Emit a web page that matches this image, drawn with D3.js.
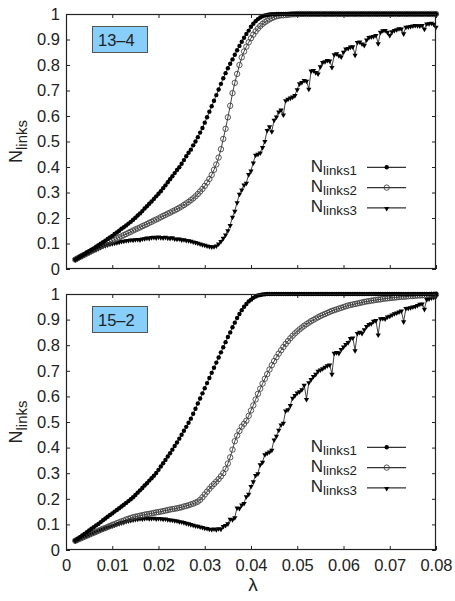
<!DOCTYPE html>
<html>
<head>
<meta charset="utf-8">
<script src="https://cdn.jsdelivr.net/npm/d3@7"></script>
<style>
  html, body { margin: 0; padding: 0; background: #fff; }
  svg { display: block; font-family: "Liberation Sans", Arial, Helvetica, sans-serif; }
</style>
</head>
<body>
<svg id="chart" width="455" height="601"></svg>
<script>
// λ sampling points shared by every series
const lambda = [
  0.0020, 0.0025, 0.0030, 0.0035, 0.0040, 0.0045, 0.0050, 0.0055, 0.0060, 0.0065,
  0.0070, 0.0075, 0.0080, 0.0085, 0.0090, 0.0095, 0.0100, 0.0105, 0.0110, 0.0115,
  0.0120, 0.0125, 0.0130, 0.0135, 0.0140, 0.0145, 0.0150, 0.0155, 0.0160, 0.0165,
  0.0170, 0.0175, 0.0180, 0.0185, 0.0190, 0.0195, 0.0200, 0.0205, 0.0210, 0.0215,
  0.0220, 0.0225, 0.0230, 0.0235, 0.0240, 0.0245, 0.0250, 0.0255, 0.0260, 0.0265,
  0.0270, 0.0275, 0.0280, 0.0285, 0.0290, 0.0295, 0.0300, 0.0305, 0.0310, 0.0315,
  0.0320, 0.0325, 0.0330, 0.0335, 0.0340, 0.0345, 0.0350, 0.0355, 0.0360, 0.0365,
  0.0370, 0.0375, 0.0380, 0.0385, 0.0390, 0.0395, 0.0400, 0.0405, 0.0410, 0.0415,
  0.0420, 0.0425, 0.0430, 0.0435, 0.0440, 0.0445, 0.0450, 0.0455, 0.0460, 0.0465,
  0.0470, 0.0475, 0.0480, 0.0485, 0.0490, 0.0495, 0.0500, 0.0505, 0.0510, 0.0515,
  0.0520, 0.0525, 0.0530, 0.0535, 0.0540, 0.0545, 0.0550, 0.0555, 0.0560, 0.0565,
  0.0570, 0.0575, 0.0580, 0.0585, 0.0590, 0.0595, 0.0600, 0.0605, 0.0610, 0.0615,
  0.0620, 0.0625, 0.0630, 0.0635, 0.0640, 0.0645, 0.0650, 0.0655, 0.0660, 0.0665,
  0.0670, 0.0675, 0.0680, 0.0685, 0.0690, 0.0695, 0.0700, 0.0705, 0.0710, 0.0715,
  0.0720, 0.0725, 0.0730, 0.0735, 0.0740, 0.0745, 0.0750, 0.0755, 0.0760, 0.0765,
  0.0770, 0.0775, 0.0780, 0.0785, 0.0790, 0.0795, 0.0800
];

// Case 13–4
const links1_13_4 = [
  0.037, 0.042, 0.048, 0.053, 0.059, 0.065, 0.070, 0.076, 0.081, 0.087,
  0.093, 0.099, 0.105, 0.111, 0.118, 0.124, 0.130, 0.137, 0.143, 0.150,
  0.158, 0.164, 0.171, 0.178, 0.185, 0.193, 0.201, 0.210, 0.218, 0.227,
  0.237, 0.246, 0.256, 0.265, 0.275, 0.285, 0.295, 0.305, 0.317, 0.328,
  0.340, 0.352, 0.364, 0.376, 0.388, 0.399, 0.413, 0.427, 0.442, 0.456,
  0.468, 0.485, 0.500, 0.517, 0.535, 0.553, 0.574, 0.595, 0.617, 0.638,
  0.660, 0.682, 0.704, 0.726, 0.748, 0.768, 0.787, 0.805, 0.822, 0.840,
  0.858, 0.875, 0.891, 0.907, 0.922, 0.935, 0.950, 0.962, 0.972, 0.980,
  0.986, 0.991, 0.994, 0.996, 0.998, 0.999, 0.999, 1.000, 1.000, 1.000,
  1.000, 1.000, 1.000, 1.000, 1.000, 1.000, 1.000, 1.000, 1.000, 1.000,
  1.000, 1.000, 1.000, 1.000, 1.000, 1.000, 1.000, 1.000, 1.000, 1.000,
  1.000, 1.000, 1.000, 1.000, 1.000, 1.000, 1.000, 1.000, 1.000, 1.000,
  1.000, 1.000, 1.000, 1.000, 1.000, 1.000, 1.000, 1.000, 1.000, 1.000,
  1.000, 1.000, 1.000, 1.000, 1.000, 1.000, 1.000, 1.000, 1.000, 1.000,
  1.000, 1.000, 1.000, 1.000, 1.000, 1.000, 1.000, 1.000, 1.000, 1.000,
  1.000, 1.000, 1.000, 1.000, 1.000, 1.000, 1.000
];
const links2_13_4 = [
  0.037, 0.042, 0.047, 0.052, 0.056, 0.061, 0.066, 0.071, 0.075, 0.080,
  0.085, 0.089, 0.094, 0.098, 0.102, 0.107, 0.111, 0.115, 0.120, 0.124,
  0.128, 0.133, 0.137, 0.142, 0.146, 0.151, 0.155, 0.159, 0.163, 0.168,
  0.172, 0.176, 0.181, 0.185, 0.190, 0.194, 0.198, 0.203, 0.208, 0.212,
  0.217, 0.221, 0.226, 0.230, 0.235, 0.240, 0.245, 0.251, 0.257, 0.263,
  0.270, 0.277, 0.285, 0.294, 0.304, 0.314, 0.326, 0.339, 0.353, 0.369,
  0.389, 0.410, 0.437, 0.470, 0.510, 0.550, 0.595, 0.640, 0.690, 0.730,
  0.765, 0.800, 0.830, 0.853, 0.872, 0.889, 0.905, 0.919, 0.932, 0.943,
  0.953, 0.961, 0.968, 0.974, 0.979, 0.984, 0.988, 0.991, 0.993, 0.995,
  0.995, 0.996, 0.997, 0.998, 0.999, 0.999, 1.000, 1.000, 1.000, 1.000,
  1.000, 1.000, 1.000, 1.000, 1.000, 1.000, 1.000, 1.000, 1.000, 1.000,
  1.000, 1.000, 1.000, 1.000, 1.000, 1.000, 1.000, 1.000, 1.000, 1.000,
  1.000, 1.000, 1.000, 1.000, 1.000, 1.000, 1.000, 1.000, 1.000, 1.000,
  1.000, 1.000, 1.000, 1.000, 1.000, 1.000, 1.000, 1.000, 1.000, 1.000,
  1.000, 1.000, 1.000, 1.000, 1.000, 1.000, 1.000, 1.000, 1.000, 1.000,
  1.000, 1.000, 1.000, 1.000, 1.000, 1.000, 1.000
];
const links3_13_4 = [
  0.037, 0.042, 0.047, 0.051, 0.056, 0.061, 0.065, 0.070, 0.074, 0.078,
  0.082, 0.086, 0.090, 0.093, 0.096, 0.099, 0.101, 0.103, 0.105, 0.107,
  0.110, 0.111, 0.113, 0.114, 0.116, 0.115, 0.117, 0.118, 0.116, 0.120,
  0.121, 0.123, 0.122, 0.125, 0.126, 0.124, 0.127, 0.125, 0.124, 0.126,
  0.123, 0.122, 0.124, 0.120, 0.119, 0.120, 0.116, 0.117, 0.114, 0.113,
  0.111, 0.108, 0.106, 0.103, 0.100, 0.097, 0.095, 0.092, 0.090, 0.088,
  0.089, 0.092, 0.100, 0.110, 0.122, 0.135, 0.152, 0.172, 0.205, 0.228,
  0.262, 0.295, 0.312, 0.331, 0.338, 0.372, 0.386, 0.418, 0.448, 0.452,
  0.457, 0.478, 0.502, 0.545, 0.560, 0.540, 0.585, 0.598, 0.618, 0.625,
  0.606, 0.662, 0.668, 0.672, 0.676, 0.682, 0.705, 0.728, 0.733, 0.741,
  0.738, 0.707, 0.778, 0.780, 0.772, 0.767, 0.795, 0.812, 0.815, 0.820,
  0.818, 0.792, 0.842, 0.846, 0.838, 0.833, 0.852, 0.865, 0.867, 0.872,
  0.873, 0.840, 0.890, 0.892, 0.884, 0.879, 0.900, 0.910, 0.912, 0.914,
  0.918, 0.885, 0.930, 0.936, 0.937, 0.930, 0.918, 0.932, 0.937, 0.940,
  0.944, 0.943, 0.924, 0.950, 0.951, 0.953, 0.955, 0.957, 0.956, 0.955,
  0.957, 0.942, 0.963, 0.964, 0.966, 0.962, 0.950
];

// Case 15–2
const links1_15_2 = [
  0.037, 0.044, 0.050, 0.057, 0.063, 0.070, 0.076, 0.083, 0.089, 0.096,
  0.102, 0.109, 0.116, 0.123, 0.130, 0.137, 0.143, 0.150, 0.156, 0.163,
  0.170, 0.177, 0.184, 0.191, 0.198, 0.206, 0.215, 0.224, 0.233, 0.242,
  0.252, 0.261, 0.271, 0.280, 0.290, 0.301, 0.313, 0.326, 0.339, 0.352,
  0.365, 0.378, 0.392, 0.406, 0.420, 0.435, 0.450, 0.466, 0.481, 0.497,
  0.513, 0.532, 0.552, 0.572, 0.592, 0.612, 0.632, 0.652, 0.672, 0.692,
  0.712, 0.732, 0.752, 0.772, 0.792, 0.812, 0.832, 0.850, 0.870, 0.888,
  0.906, 0.922, 0.937, 0.950, 0.961, 0.971, 0.978, 0.985, 0.990, 0.994,
  0.996, 0.998, 0.999, 1.000, 1.000, 1.000, 1.000, 1.000, 1.000, 1.000,
  1.000, 1.000, 1.000, 1.000, 1.000, 1.000, 1.000, 1.000, 1.000, 1.000,
  1.000, 1.000, 1.000, 1.000, 1.000, 1.000, 1.000, 1.000, 1.000, 1.000,
  1.000, 1.000, 1.000, 1.000, 1.000, 1.000, 1.000, 1.000, 1.000, 1.000,
  1.000, 1.000, 1.000, 1.000, 1.000, 1.000, 1.000, 1.000, 1.000, 1.000,
  1.000, 1.000, 1.000, 1.000, 1.000, 1.000, 1.000, 1.000, 1.000, 1.000,
  1.000, 1.000, 1.000, 1.000, 1.000, 1.000, 1.000, 1.000, 1.000, 1.000,
  1.000, 1.000, 1.000, 1.000, 1.000, 1.000, 1.000
];
const links2_15_2 = [
  0.036, 0.040, 0.044, 0.048, 0.052, 0.056, 0.060, 0.064, 0.067, 0.071,
  0.075, 0.079, 0.083, 0.086, 0.090, 0.094, 0.098, 0.101, 0.105, 0.108,
  0.112, 0.115, 0.119, 0.122, 0.125, 0.128, 0.130, 0.132, 0.134, 0.136,
  0.138, 0.140, 0.141, 0.143, 0.145, 0.147, 0.148, 0.150, 0.152, 0.154,
  0.156, 0.158, 0.160, 0.161, 0.163, 0.165, 0.167, 0.170, 0.172, 0.175,
  0.178, 0.181, 0.185, 0.189, 0.196, 0.206, 0.217, 0.228, 0.239, 0.249,
  0.258, 0.267, 0.277, 0.288, 0.300, 0.317, 0.338, 0.362, 0.392, 0.425,
  0.447, 0.465, 0.482, 0.493, 0.505, 0.524, 0.545, 0.565, 0.588, 0.610,
  0.630, 0.650, 0.669, 0.687, 0.705, 0.722, 0.738, 0.753, 0.767, 0.780,
  0.793, 0.805, 0.816, 0.827, 0.837, 0.846, 0.854, 0.862, 0.869, 0.876,
  0.882, 0.888, 0.894, 0.899, 0.904, 0.909, 0.914, 0.918, 0.922, 0.926,
  0.930, 0.934, 0.937, 0.940, 0.943, 0.946, 0.949, 0.952, 0.955, 0.957,
  0.959, 0.961, 0.963, 0.965, 0.967, 0.969, 0.971, 0.972, 0.974, 0.975,
  0.977, 0.978, 0.979, 0.981, 0.982, 0.983, 0.984, 0.985, 0.986, 0.987,
  0.988, 0.989, 0.989, 0.990, 0.991, 0.992, 0.992, 0.993, 0.994, 0.994,
  0.995, 0.995, 0.996, 0.996, 0.997, 0.997, 0.998
];
const links3_15_2 = [
  0.036, 0.040, 0.045, 0.049, 0.053, 0.057, 0.061, 0.065, 0.069, 0.073,
  0.076, 0.080, 0.083, 0.087, 0.090, 0.093, 0.096, 0.099, 0.102, 0.105,
  0.108, 0.110, 0.113, 0.115, 0.117, 0.119, 0.121, 0.122, 0.124, 0.123,
  0.125, 0.126, 0.124, 0.125, 0.126, 0.123, 0.125, 0.124, 0.122, 0.123,
  0.120, 0.119, 0.118, 0.116, 0.115, 0.112, 0.111, 0.109, 0.106, 0.104,
  0.101, 0.099, 0.096, 0.095, 0.092, 0.090, 0.087, 0.086, 0.083, 0.082,
  0.084, 0.081, 0.085, 0.083, 0.094, 0.098, 0.104, 0.122, 0.120, 0.128,
  0.166, 0.164, 0.178, 0.184, 0.210, 0.220, 0.250, 0.268, 0.293, 0.300,
  0.335, 0.345, 0.374, 0.380, 0.385, 0.392, 0.432, 0.446, 0.470, 0.490,
  0.497, 0.545, 0.550, 0.566, 0.595, 0.605, 0.615, 0.620, 0.628, 0.645,
  0.590, 0.655, 0.668, 0.680, 0.688, 0.700, 0.705, 0.710, 0.716, 0.722,
  0.725, 0.688, 0.770, 0.773, 0.770, 0.785, 0.795, 0.805, 0.812, 0.828,
  0.830, 0.780, 0.848, 0.852, 0.848, 0.862, 0.875, 0.883, 0.886, 0.895,
  0.898, 0.842, 0.905, 0.906, 0.904, 0.912, 0.915, 0.920, 0.925, 0.928,
  0.932, 0.935, 0.893, 0.945, 0.946, 0.948, 0.951, 0.953, 0.957, 0.962,
  0.963, 0.942, 0.980, 0.983, 0.986, 0.988, 0.992
];

const panelLabels = ["13\u20134", "15\u20132"];
const seriesSubscripts = ["links1", "links2", "links3"];
const xTickValues = [0, 0.01, 0.02, 0.03, 0.04, 0.05, 0.06, 0.07, 0.08];
const xTickLabels = ["0", "0.01", "0.02", "0.03", "0.04", "0.05", "0.06", "0.07", "0.08"];
const yTickValues = [0, 0.1, 0.2, 0.3, 0.4, 0.5, 0.6, 0.7, 0.8, 0.9, 1];
const yTickLabels = ["0", "0.1", "0.2", "0.3", "0.4", "0.5", "0.6", "0.7", "0.8", "0.9", "1"];

const panels = [
  { label: panelLabels[0], series: [links1_13_4, links2_13_4, links3_13_4], top: 14, bottom: 269, xLabels: false },
  { label: panelLabels[1], series: [links1_15_2, links2_15_2, links3_15_2], top: 294, bottom: 550, xLabels: true }
];

const svg = d3.select("#chart");
const left = 66, right = 436;
const tickFont = 16.5;
const x = d3.scaleLinear().domain([0, 0.08]).range([left, right]);

// marker painters, one per series
const triangle = d3.symbol().type(d3.symbolTriangle).size(12);
const markers = [
  (g, px, py) => g.append("circle").attr("cx", px).attr("cy", py).attr("r", 2.2)
                  .attr("fill", "#000"),
  (g, px, py) => g.append("circle").attr("cx", px).attr("cy", py).attr("r", 2.7)
                  .attr("fill", "none").attr("stroke", "#3a3a3a").attr("stroke-width", 0.85),
  (g, px, py) => g.append("path").attr("d", triangle())
                  .attr("transform", `translate(${px},${py + 0.5}) rotate(180)`)
                  .attr("fill", "#000")
];

panels.forEach(p => {
  const y = d3.scaleLinear().domain([0, 1]).range([p.bottom, p.top]);
  const g = svg.append("g");

  // axes with inward ticks on all four sides
  const fmtX = (d, i) => xTickLabels[i];
  const fmtY = (d, i) => yTickLabels[i];
  const bottomAxis = d3.axisBottom(x).tickValues(xTickValues).tickSizeInner(-4).tickSizeOuter(0)
    .tickPadding(9).tickFormat(p.xLabels ? fmtX : () => "");
  const topAxis = d3.axisTop(x).tickValues(xTickValues).tickSizeInner(-4).tickSizeOuter(0).tickFormat(() => "");
  const leftAxis = d3.axisLeft(y).tickValues(yTickValues).tickSizeInner(-4).tickSizeOuter(0)
    .tickPadding(6).tickFormat(fmtY);
  const rightAxis = d3.axisRight(y).tickValues(yTickValues).tickSizeInner(-4).tickSizeOuter(0).tickFormat(() => "");

  const axes = [
    g.append("g").attr("transform", `translate(0,${p.bottom})`).call(bottomAxis),
    g.append("g").attr("transform", `translate(0,${p.top})`).call(topAxis),
    g.append("g").attr("transform", `translate(${left},0)`).call(leftAxis),
    g.append("g").attr("transform", `translate(${right},0)`).call(rightAxis)
  ];
  axes.forEach(a => {
    a.select(".domain").remove();
    a.selectAll(".tick line").attr("stroke", "#222").attr("stroke-width", 1);
    a.selectAll(".tick text").attr("fill", "#222").style("font-size", tickFont + "px")
      .style("font-family", "'Liberation Sans', Arial, sans-serif");
  });

  // curves
  const line = d3.line().x((d, i) => x(lambda[i])).y(d => y(d));
  const order = [2, 1, 0];
  order.forEach(s => {
    const vals = p.series[s];
    g.append("path").datum(vals).attr("d", line)
      .attr("fill", "none").attr("stroke", "#111").attr("stroke-width", 0.8);
    const mg = g.append("g");
    vals.forEach((v, i) => markers[s](mg, x(lambda[i]), y(v)));
  });

  // frame
  g.append("rect").attr("x", left + 0.5).attr("y", p.top + 0.5)
    .attr("width", right - left - 1).attr("height", p.bottom - p.top - 1)
    .attr("fill", "none").attr("stroke", "#222").attr("stroke-width", 1.2);

  // case label box
  g.append("rect").attr("x", 92.5).attr("y", p.top + 12.5).attr("width", 55).attr("height", 26)
    .attr("fill", "#87cefa").attr("stroke", "#555").attr("stroke-width", 1);
  g.append("text").attr("x", 98).attr("y", p.top + 31.5).attr("fill", "#222")
    .style("font-size", "16.5px").text(p.label);

  // y-axis title
  const yMid = (p.top + p.bottom) / 2;
  const yt = g.append("text").attr("transform", `translate(22,${yMid}) rotate(-90)`)
    .attr("text-anchor", "middle").attr("fill", "#222");
  yt.append("tspan").style("font-size", "18px").text("N");
  yt.append("tspan").style("font-size", "15px").attr("dy", 4.5).text("links");

  // legend
  seriesSubscripts.forEach((sub, k) => {
    const ly = p.top + 153.3 + k * 20.3;
    const t = g.append("text").attr("x", 357).attr("y", ly + 4.5).attr("text-anchor", "end").attr("fill", "#222");
    t.append("tspan").style("font-size", "17px").text("N");
    t.append("tspan").style("font-size", "13.3px").attr("dy", 3).text(sub);
    g.append("line").attr("x1", 367).attr("x2", 406).attr("y1", ly).attr("y2", ly)
      .attr("stroke", "#333").attr("stroke-width", 1.2);
    markers[k](g, 386.7, ly);
  });
});

// x-axis title
svg.append("text").attr("x", 253).attr("y", 591).attr("text-anchor", "middle")
  .attr("fill", "#222").style("font-size", "19px").text("\u03bb");
</script>
</body>
</html>
